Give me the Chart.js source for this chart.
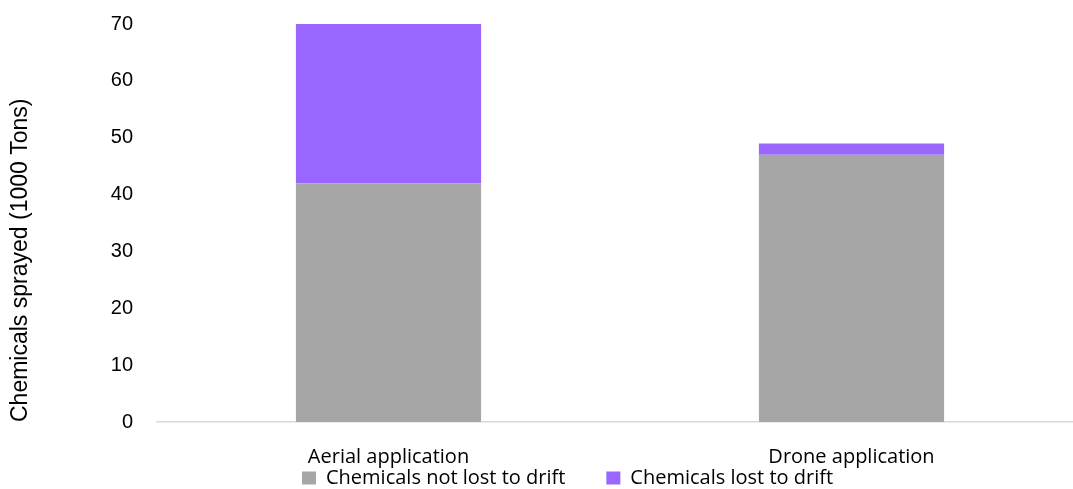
<!DOCTYPE html>
<html>
<head>
<meta charset="utf-8">
<script src="https://cdn.jsdelivr.net/npm/chart.js@4/dist/chart.umd.min.js"></script>
<style>
  html, body { margin: 0; padding: 0; background: #ffffff; overflow: hidden; }
  #wrap { position: relative; width: 1083px; height: 489px; }
</style>
</head>
<body>
<div id="wrap"><canvas id="c" width="1083" height="489"></canvas></div>
<script>
const categories = ["Aerial application", "Drone application"];
const notLostToDrift = [42, 47];
const lostToDrift = [28, 2];
const seriesNames = ["Chemicals not lost to drift", "Chemicals lost to drift"];
const yTicks = [0, 10, 20, 30, 40, 50, 60, 70];
const yTitle = "Chemicals sprayed (1000 Tons)";

const PLOT_TOP = 24;
const PLOT_BOTTOM = 422;
const LEGEND_H = 1;
const LEGEND_X = 302;
const LEGEND_TEXT_Y = 480;

const legendPlace = {
  id: 'legendPlace',
  beforeLayout(chart) {
    const lg = chart.legend;
    if (!lg || lg._patched) return;
    const f = lg.fit;
    lg.fit = function () { f.call(this); this.height = LEGEND_H; };
    lg._patched = true;
  },
  afterLayout(chart) {
    const lg = chart.legend;
    if (!lg) return;
    const pad = lg.options.labels.padding;
    const itemH = lg._itemHeight || 24;
    lg.left = LEGEND_X - pad;
    lg.right = chart.width;
    lg.width = lg.right - lg.left;
    lg.top = LEGEND_TEXT_Y - pad - itemH / 2;
    lg.bottom = chart.height;
    lg.height = lg.bottom - lg.top;
  }
};

new Chart(document.getElementById('c'), {
  type: 'bar',
  data: {
    labels: categories,
    datasets: [
      { label: seriesNames[0], data: notLostToDrift, backgroundColor: '#a6a6a6', borderWidth: 0 },
      { label: seriesNames[1], data: lostToDrift, backgroundColor: '#9966ff', borderWidth: 0 }
    ]
  },
  options: {
    responsive: false,
    devicePixelRatio: 1,
    animation: false,
    layout: { padding: { top: PLOT_TOP, left: 0, right: 0, bottom: 0 } },
    datasets: { bar: { barPercentage: 0.4, categoryPercentage: 1.0 } },
    plugins: {
      tooltip: { enabled: false },
      legend: {
        position: 'bottom',
        align: 'start',
        labels: {
          boxWidth: 14,
          boxHeight: 13,
          padding: 41,
          color: '#000000',
          font: { family: "'Open Sans', 'Liberation Sans', sans-serif", size: 20 }
        }
      }
    },
    scales: {
      x: {
        stacked: true,
        grid: { display: false, drawTicks: false },
        border: { display: true, color: '#d9d9d9', width: 1.5 },
        ticks: {
          color: '#000000',
          padding: 23,
          font: { family: "'Open Sans', 'Liberation Sans', sans-serif", size: 20 }
        },
        afterFit(scale) {
          scale.height = 489 - PLOT_BOTTOM - LEGEND_H;
          scale.paddingLeft = 0;
          scale.paddingRight = 0;
        }
      },
      y: {
        stacked: true,
        min: 0,
        max: 70,
        grid: { display: false, drawTicks: false },
        border: { display: false },
        afterBuildTicks(scale) {
          scale.ticks = yTicks.map(v => ({ value: v }));
        },
        ticks: {
          color: '#000000',
          padding: 24,
          font: { family: "'Liberation Sans', Arial, sans-serif", size: 20 }
        },
        title: {
          display: true,
          text: yTitle,
          align: 'start',
          color: '#000000',
          padding: { top: 7, bottom: 0 },
          font: { family: "'Liberation Sans', Arial, sans-serif", size: 23 }
        },
        afterFit(scale) {
          scale.width = 157;
          scale.paddingTop = 0;
          scale.paddingBottom = 0;
        }
      }
    }
  },
  plugins: [legendPlace]
});
</script>
</body>
</html>
